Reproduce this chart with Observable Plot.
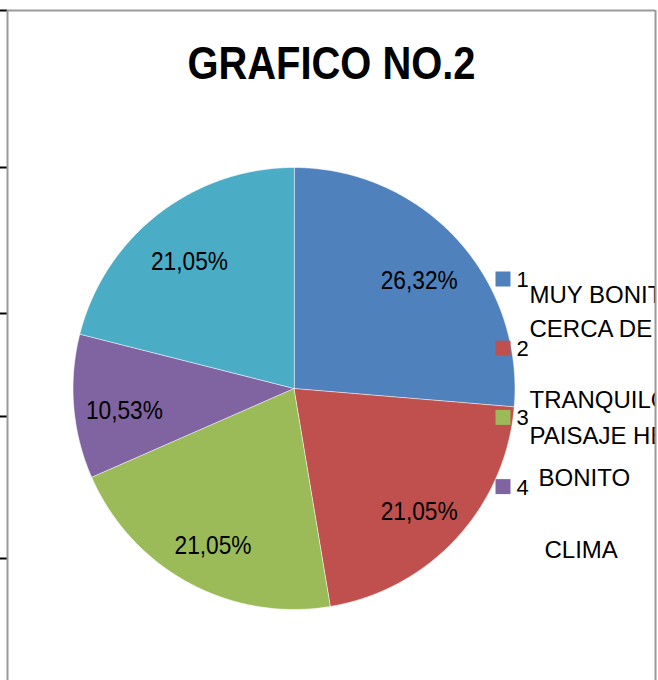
<!DOCTYPE html>
<html><head><meta charset="utf-8">
<script src="https://cdn.jsdelivr.net/npm/d3@7"></script>
<script src="https://cdn.jsdelivr.net/npm/@observablehq/plot@0.6"></script>
<style>body{margin:0;background:#fff;}</style>
</head><body><div id="chart"></div>
<script>
// ---- data ----
const title = "GRAFICO NO.2";
const categories = ["1", "2", "3", "4", "5"];
const percents = [26.32, 21.05, 21.05, 10.53, 21.05];
const colors = ["#4F81BD", "#C0504D", "#9BBB59", "#8064A2", "#4BACC6"];
const legendKeys = ["1", "2", "3", "4"];
const legendLines = ["MUY BONITO", "CERCA DE CASA", "TRANQUILO", "PAISAJE HERMOSO", "BONITO", "CLIMA"];

// ---- layout ----
const W = 658, H = 680;
const frameL = 7, frameR = 655, frameT = 10, frameB = 680;
const CX = 293.5, CY = 388, R = 221;
const px = x => (x - CX) / R, py = y => (CY - y) / R;
const legendLineX = [529, 529, 529, 529, 538, 544];
const legendLineBase = [302, 336, 407, 443, 485, 557];
const legendTop = 278.5, legendStep = 69.2, legendSquareX = 502.5, legendNumX = 516;
const edgeTicks = [10, 167, 313, 416, 558];
const sans = "'Liberation Sans', Arial, sans-serif";

// ---- geometry from data ----
const arcs = d3.pie().sort(null).value(d => d.value)(categories.map((c, i) => ({cat: c, value: percents[i]})));
const polys = arcs.flatMap(a => {
  const n = Math.max(2, Math.ceil((a.endAngle - a.startAngle) / (Math.PI / 360)));
  const pts = [{cat: a.data.cat, x: 0, y: 0}];
  for (let k = 0; k <= n; k++) {
    const t = a.startAngle + (a.endAngle - a.startAngle) * k / n;
    pts.push({cat: a.data.cat, x: Math.sin(t), y: Math.cos(t)});
  }
  return pts;
});
const labelR = 0.77;
const labels = arcs.map(a => {
  const m = (a.startAngle + a.endAngle) / 2;
  return {x: labelR * Math.sin(m), y: labelR * Math.cos(m), text: a.data.value.toFixed(2).replace(".", ",") + "%"};
});

const chart = Plot.plot({
  width: W, height: H,
  marginLeft: frameL, marginRight: W - frameR, marginTop: frameT, marginBottom: H - frameB,
  x: {domain: [px(frameL), px(frameR)], axis: null},
  y: {domain: [py(frameB), py(frameT)], axis: null},
  color: {domain: categories, range: colors},
  style: {background: "white", overflow: "visible"},
  marks: [
    Plot.line(polys, {x: "x", y: "y", z: "cat", fill: "cat", stroke: "white", strokeOpacity: 0.55, strokeWidth: 1, curve: "linear-closed"}),
    Plot.text(labels, {x: "x", y: "y", text: "text", dy: 8, fontSize: 25, fontFamily: sans, fill: "black", lineAnchor: "middle", ariaDescription: "pie-labels"}),
    Plot.text([title], {text: d => d, frameAnchor: "top", dy: 68, lineAnchor: "bottom", fontSize: 46, fontWeight: "bold", fontFamily: sans, fill: "black", ariaDescription: "chart-title"}),
    Plot.dot(legendKeys, {x: () => px(legendSquareX), y: (d, i) => py(legendTop + i * legendStep), symbol: "square", r: 8.46, fill: d => d, stroke: "none"}),
    Plot.text(legendKeys, {x: () => px(legendNumX), y: (d, i) => py(legendTop + i * legendStep + 8), text: d => d, textAnchor: "start", lineAnchor: "bottom", fontSize: 22, fontFamily: sans, fill: "black"}),
    Plot.text(legendLines, {x: (d, i) => px(legendLineX[i]), y: (d, i) => py(legendLineBase[i]), text: d => d, textAnchor: "start", lineAnchor: "bottom", fontSize: 24, fontFamily: sans, fill: "black", clip: true}),
    Plot.ruleY(edgeTicks, {y: d => py(d), x1: () => px(0), x2: () => px(frameL), stroke: "black", strokeWidth: 2}),
    Plot.ruleY([frameT], {y: d => py(d), stroke: "#9a9a9a", strokeWidth: 2}),
    Plot.ruleX([frameL, frameR], {x: d => px(d), stroke: "#9a9a9a", strokeWidth: 2})
  ]
});
// condensed type, as in the reference
const squeeze = (sel, len) => chart.querySelectorAll(sel).forEach(t => {
  t.setAttribute("textLength", len);
  t.setAttribute("lengthAdjust", "spacingAndGlyphs");
});
squeeze('g[aria-description="pie-labels"] text', 77);
squeeze('g[aria-description="chart-title"] text', 288);
document.getElementById("chart").append(chart);
</script>
</body></html>
